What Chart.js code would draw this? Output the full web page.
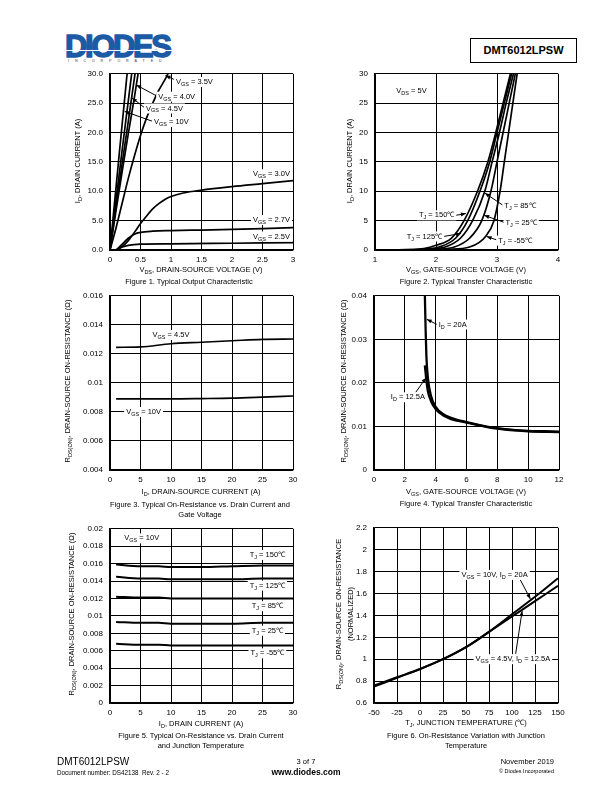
<!DOCTYPE html>
<html><head><meta charset="utf-8">
<script src="https://cdn.jsdelivr.net/npm/chart.js@4.4.0/dist/chart.umd.min.js"></script>
<style>
body{margin:0;width:612px;height:792px;position:relative;background:#fff;font-family:"Liberation Sans",Arial,sans-serif;color:#000;overflow:hidden}
canvas{position:absolute}
.t{position:absolute;white-space:nowrap;font-size:7.5px;line-height:1}
.t sub{font-size:5.5px;vertical-align:-1.5px;line-height:0}
#logo{position:absolute;left:65px;top:29px;font:bold 31px "Liberation Sans",Arial;color:#1d5aa6;letter-spacing:-2.4px;-webkit-text-stroke:1.4px #1d5aa6}
#stripe{position:absolute;left:62px;top:50px;width:112px;height:1px;background:#fff}
#inc{position:absolute;left:68px;top:59px;font-size:3.6px;letter-spacing:5.9px;color:#333}
#pn{position:absolute;left:470px;top:38px;width:105px;height:23px;border:1.3px solid #000;font:bold 11px "Liberation Sans",Arial;text-align:center;line-height:23px}
</style></head><body>
<div id="logo">DIODES</div>
<div id="stripe"></div>
<div id="inc">INCORPORATED</div>
<div id="pn">DMT6012LPSW</div>
<script>
// Figure 1 - output characteristic (VDS in V, ID in A)
const outVds10 = [0, 0.05, 0.1, 0.15, 0.2, 0.25, 0.28];
const outId10 = [0, 5.4, 10.8, 16.2, 21.5, 26.8, 30];
const outVds6 = [0, 0.1, 0.2, 0.3, 0.355];
const outId6 = [0, 8.6, 17.1, 25.4, 30];
const outVds45 = [0, 0.1, 0.2, 0.3, 0.41];
const outId45 = [0, 7.5, 14.8, 21.9, 30];
const outVds40 = [0, 0.1, 0.2, 0.3, 0.4, 0.46];
const outId40 = [0, 6.8, 13.4, 19.8, 26, 30];
const outVds35 = [0, 0.1, 0.2, 0.3, 0.4, 0.5, 0.6, 0.7, 0.8, 0.9, 0.95];
const outId35 = [0, 3.8, 8, 12.2, 16, 19.5, 22.5, 25, 27.2, 29, 30];
const outVds30 = [0.1, 0.2, 0.3, 0.4, 0.5, 0.6, 0.7, 0.8, 0.9, 1, 1.2, 1.5, 2, 2.5, 3];
const outId30 = [0, 0.6, 1.6, 3, 4.5, 5.8, 7, 7.9, 8.6, 9.1, 9.7, 10.2, 10.8, 11.3, 11.8];
const outVds27 = [0.1, 0.2, 0.3, 0.4, 0.5, 0.7, 1, 1.5, 2, 2.5, 3];
const outId27 = [0, 1, 2, 2.7, 3, 3.2, 3.3, 3.4, 3.5, 3.65, 3.8];
const outVds25 = [0.1, 0.2, 0.3, 0.5, 1, 2, 3];
const outId25 = [0, 0.5, 0.8, 1, 1.05, 1.15, 1.25];

// Figure 2 - transfer characteristic (VGS in V, ID in A)
const trVgs150 = [1.1, 1.5, 1.8, 2.0, 2.25, 2.46, 2.68, 2.85, 2.98, 3.1, 3.22];
const trId150 = [0, 0.05, 0.25, 0.8, 2, 5, 10, 15, 20, 25, 30];
const trVgs125 = [1.1, 1.5, 1.85, 2.05, 2.32, 2.52, 2.72, 2.88, 3.0, 3.12, 3.24];
const trId125 = [0, 0.03, 0.2, 0.5, 2, 5, 10, 15, 20, 25, 30];
const trVgs85 = [1.2, 1.6, 1.9, 2.15, 2.4, 2.6, 2.8, 2.92, 3.04, 3.15, 3.27];
const trId85 = [0, 0.02, 0.15, 0.5, 2, 5, 10, 15, 20, 25, 30];
const trVgs25 = [1.3, 1.7, 2.0, 2.3, 2.55, 2.75, 2.9, 3.0, 3.1, 3.2, 3.3];
const trId25 = [0, 0.02, 0.12, 0.5, 2, 5, 10, 15, 20, 25, 30];
const trVgsM55 = [1.5, 1.9, 2.2, 2.55, 2.82, 2.95, 3.05, 3.12, 3.19, 3.26, 3.33];
const trIdM55 = [0, 0.02, 0.1, 0.5, 2.4, 5, 10, 15, 20, 25, 30];

// Figure 3 - RDS(on) vs ID
const rdsId = [1, 5, 10, 15, 20, 25, 30];
const rdsVgs45 = [0.01245, 0.01248, 0.0127, 0.0128, 0.0129, 0.0130, 0.01302];
const rdsVgs10 = [0.0089, 0.0089, 0.0089, 0.00892, 0.00895, 0.00902, 0.0091];

// Figure 4 - RDS(on) vs VGS
const rgVgs20 = [3.3, 3.35, 3.4, 3.5, 3.7, 4, 4.5, 5, 6, 7, 8, 9, 10, 11, 12];
const rgR20 = [0.04, 0.032, 0.026, 0.021, 0.017, 0.0145, 0.0128, 0.012, 0.011, 0.0102, 0.0096, 0.0092, 0.009, 0.0089, 0.0088];
const rgVgs125 = [3.3, 3.4, 3.5, 3.7, 4, 4.5, 5, 6, 8, 10, 12];
const rgR125 = [0.024, 0.0205, 0.018, 0.0158, 0.014, 0.0125, 0.0117, 0.0109, 0.0095, 0.0089, 0.0087];

// Figure 5 - RDS(on) vs ID and TJ
const rtId = [1, 5, 8, 10, 15, 20, 25, 30];
const rtT150 = [0.0159, 0.0157, 0.0157, 0.0156, 0.0156, 0.0157, 0.0158, 0.0158];
const rtT125 = [0.0145, 0.0143, 0.0143, 0.0142, 0.0142, 0.0142, 0.0143, 0.0143];
const rtT85 = [0.0122, 0.0121, 0.0121, 0.012, 0.012, 0.012, 0.012, 0.012];
const rtT25 = [0.0093, 0.0092, 0.0092, 0.0091, 0.0091, 0.0091, 0.0092, 0.0092];
const rtTm55 = [0.0068, 0.0067, 0.0067, 0.0066, 0.0066, 0.0066, 0.0066, 0.0066];

// Figure 6 - normalized RDS(on) vs TJ
const ntTemp = [-50, -25, 0, 25, 50, 75, 100, 125, 150];
const ntR10 = [0.75, 0.83, 0.91, 1.0, 1.11, 1.25, 1.41, 1.57, 1.74];
const ntR45 = [0.76, 0.835, 0.91, 1.0, 1.11, 1.25, 1.39, 1.53, 1.67];

const FONT = '"Liberation Sans", Arial, sans-serif';
const pts = (xs, ys) => xs.map((x, i) => ({ x: x, y: ys[i] }));
const num = d => v => String(Number(v.toFixed(d)));

function text(html, x, y, rot) {
    const d = document.createElement('div');
    d.className = 't';
    d.innerHTML = html;
    d.style.left = x + 'px';
    d.style.top = y + 'px';
    d.style.transform = 'translate(-50%,-50%)' + (rot ? ' rotate(-90deg)' : '');
    document.body.appendChild(d);
}

// labels with subscripts and arrows, placed in data coordinates
function notesPlugin(notes) {
    return {
        id: 'notes',
        afterDatasetsDraw(chart) {
            const ctx = chart.ctx, xs = chart.scales.x, ys = chart.scales.y;
            ctx.save();
            notes.forEach(n => {
                if (n.from) {
                    const x1 = xs.getPixelForValue(n.from[0]), y1 = ys.getPixelForValue(n.from[1]);
                    const x2 = xs.getPixelForValue(n.to[0]), y2 = ys.getPixelForValue(n.to[1]);
                    const a = Math.atan2(y2 - y1, x2 - x1);
                    ctx.strokeStyle = '#000'; ctx.fillStyle = '#000'; ctx.lineWidth = 1;
                    ctx.beginPath(); ctx.moveTo(x1, y1); ctx.lineTo(x2, y2); ctx.stroke();
                    ctx.beginPath();
                    ctx.moveTo(x2, y2);
                    ctx.lineTo(x2 - 5 * Math.cos(a) + 2 * Math.sin(a), y2 - 5 * Math.sin(a) - 2 * Math.cos(a));
                    ctx.lineTo(x2 - 5 * Math.cos(a) - 2 * Math.sin(a), y2 - 5 * Math.sin(a) + 2 * Math.cos(a));
                    ctx.closePath(); ctx.fill();
                }
                if (!n.parts) return;
                const big = '7.5px ' + FONT, small = '5.5px ' + FONT;
                let w = 0;
                n.parts.forEach(p => { ctx.font = p[1] ? small : big; w += ctx.measureText(p[0]).width; });
                let x = xs.getPixelForValue(n.x), y = ys.getPixelForValue(n.y);
                if (n.align === 'center') x -= w / 2;
                else if (n.align === 'right') x -= w;
                ctx.fillStyle = '#fff';
                ctx.fillRect(x - 2, y - 5, w + 4, 10);
                ctx.fillStyle = '#000';
                ctx.textBaseline = 'middle';
                n.parts.forEach(p => {
                    ctx.font = p[1] ? small : big;
                    ctx.fillText(p[0], x, y + (p[1] ? 2.5 : 0));
                    x += ctx.measureText(p[0]).width;
                });
            });
            ctx.restore();
        }
    };
}

function makeChart(box, plot, xs, ys, series, notes, lw) {
    const c = document.createElement('canvas');
    c.width = box[2]; c.height = box[3];
    c.style.left = box[0] + 'px'; c.style.top = box[1] + 'px';
    c.style.width = box[2] + 'px'; c.style.height = box[3] + 'px';
    document.body.appendChild(c);
    const axis = (cfg, pad) => ({
        type: 'linear', min: cfg.min, max: cfg.max,
        grid: { color: '#000', lineWidth: 1, drawTicks: false },
        border: { color: '#000', width: 1.2 },
        ticks: { stepSize: cfg.step, autoSkip: false, maxRotation: 0, padding: pad, color: '#000',
                 font: { family: FONT, size: 8 }, callback: cfg.fmt }
    });
    const xAxis = axis(xs, 5), yAxis = axis(ys, 7);
    xAxis.afterFit = s => { s.height = box[1] + box[3] - plot[3]; };
    yAxis.afterFit = s => { s.width = plot[0] - box[0]; };
    return new Chart(c, {
        type: 'line',
        data: { datasets: series.map(s => ({
            data: s, borderColor: '#000', borderWidth: lw,
            pointRadius: 0, cubicInterpolationMode: 'monotone', fill: false
        })) },
        options: {
            responsive: false, animation: false, devicePixelRatio: 1,
            layout: { autoPadding: false, padding: { left: 0, top: plot[1] - box[1], right: box[0] + box[2] - plot[2], bottom: 0 } },
            plugins: { legend: { display: false }, tooltip: { enabled: false } },
            scales: { x: xAxis, y: yAxis }
        },
        plugins: [notesPlugin(notes)]
    });
}

const V = (sub, rest) => [['V'], [sub, 1], [rest]];
const T = rest => [['T'], ['J', 1], [rest]];
const ID = rest => [['I'], ['D', 1], [rest]];

// Figure 1
makeChart([60, 62, 245, 204], [110, 72, 293, 250],
    { min: 0, max: 3, step: 0.5, fmt: num(1) },
    { min: 0, max: 30, step: 5, fmt: v => v.toFixed(1) },
    [pts(outVds10, outId10), pts(outVds6, outId6), pts(outVds45, outId45), pts(outVds40, outId40),
     pts(outVds35, outId35), pts(outVds30, outId30), pts(outVds27, outId27), pts(outVds25, outId25)],
    [{ from: [1.06, 29], to: [0.91, 29.7] }, { parts: V('GS', ' = 3.5V'), x: 1.08, y: 28.6, align: 'left' },
     { from: [0.77, 26.2], to: [0.43, 28.1] }, { parts: V('GS', ' = 4.0V'), x: 0.79, y: 26.1, align: 'left' },
     { from: [0.57, 24.2], to: [0.36, 25.9] }, { parts: V('GS', ' = 4.5V'), x: 0.59, y: 24.1, align: 'left' },
     { from: [0.7, 21.9], to: [0.24, 23.6] }, { parts: V('GS', ' = 10V'), x: 0.72, y: 21.8, align: 'left' },
     { parts: V('GS', ' = 3.0V'), x: 2.95, y: 12.9, align: 'right' },
     { parts: V('GS', ' = 2.7V'), x: 2.95, y: 5.1, align: 'right' },
     { parts: V('GS', ' = 2.5V'), x: 2.95, y: 2.3, align: 'right' }], 1.7);

// Figure 2
makeChart([335, 62, 245, 204], [375, 71, 558, 250],
    { min: 1, max: 4, step: 1, fmt: num(0) },
    { min: 0, max: 30, step: 5, fmt: num(0) },
    [pts(trVgs150, trId150), pts(trVgs125, trId125), pts(trVgs85, trId85),
     pts(trVgs25, trId25), pts(trVgsM55, trIdM55)],
    [{ parts: V('DS', ' = 5V'), x: 1.35, y: 27, align: 'left' },
     { from: [2.32, 5.9], to: [2.49, 6.2] }, { parts: T(' = 150\u2103'), x: 2.3, y: 5.9, align: 'right' },
     { from: [2.12, 2.3], to: [2.41, 2.8] }, { parts: T(' = 125\u2103'), x: 2.1, y: 2.3, align: 'right' },
     { from: [3.1, 7.6], to: [2.8, 9.7] }, { parts: T(' = 85\u2103'), x: 3.12, y: 7.5, align: 'left' },
     { from: [3.12, 4.7], to: [2.79, 5.9] }, { parts: T(' = 25\u2103'), x: 3.14, y: 4.6, align: 'left' },
     { from: [3.0, 1.7], to: [2.83, 2.3] }, { parts: T(' = -55\u2103'), x: 3.02, y: 1.6, align: 'left' }], 1.7);

// Figure 3
makeChart([60, 284, 245, 204], [110, 292, 293, 470],
    { min: 0, max: 30, step: 5, fmt: num(0) },
    { min: 0.004, max: 0.016, step: 0.002, fmt: num(3) },
    [pts(rdsId, rdsVgs45), pts(rdsId, rdsVgs10)],
    [{ parts: V('GS', ' = 4.5V'), x: 10, y: 0.0133, align: 'center' },
     { parts: V('GS', ' = 10V'), x: 5.5, y: 0.008, align: 'center' }], 1.6);

// Figure 4
makeChart([335, 284, 245, 204], [374, 292, 559, 470],
    { min: 0, max: 12, step: 2, fmt: num(0) },
    { min: 0, max: 0.04, step: 0.01, fmt: num(2) },
    [pts(rgVgs20, rgR20), pts(rgVgs125, rgR125)],
    [{ from: [4.1, 0.0334], to: [3.42, 0.0346] }, { parts: ID(' = 20A'), x: 4.2, y: 0.0334, align: 'left' },
     { from: [2.7, 0.0178], to: [3.38, 0.0212] }, { parts: ID(' = 12.5A'), x: 2.2, y: 0.0167, align: 'center' }], 2.3);

// Figure 5
makeChart([60, 517, 245, 204], [110, 525, 293, 703],
    { min: 0, max: 30, step: 5, fmt: num(0) },
    { min: 0, max: 0.02, step: 0.002, fmt: num(3) },
    [pts(rtId, rtT150), pts(rtId, rtT125), pts(rtId, rtT85), pts(rtId, rtT25), pts(rtId, rtTm55)],
    [{ parts: V('GS', ' = 10V'), x: 5.2, y: 0.0189, align: 'center' },
     { parts: T(' = 150\u2103'), x: 25.8, y: 0.017, align: 'center' },
     { parts: T(' = 125\u2103'), x: 25.8, y: 0.01348, align: 'center' },
     { parts: T(' = 85\u2103'), x: 25.8, y: 0.01112, align: 'center' },
     { parts: T(' = 25\u2103'), x: 25.8, y: 0.0083, align: 'center' },
     { parts: T(' = -55\u2103'), x: 25.8, y: 0.0057, align: 'center' }], 2);

// Figure 6
makeChart([335, 516, 245, 204], [374, 524, 558, 703],
    { min: -50, max: 150, step: 25, fmt: num(0) },
    { min: 0.6, max: 2.2, step: 0.2, fmt: num(1) },
    [pts(ntTemp, ntR10), pts(ntTemp, ntR45)],
    [{ from: [109, 1.725], to: [120, 1.55] }, { parts: [['V'], ['GS', 1], [' = 10V, I'], ['D', 1], [' = 20A']], x: 81, y: 1.77, align: 'center' },
     { from: [104, 1.05], to: [111, 1.44] }, { parts: [['V'], ['GS', 1], [' = 4.5V, I'], ['D', 1], [' = 12.5A']], x: 101, y: 1.0, align: 'center' }], 2);

// axis titles and captions
const RDS = 'R<sub>DS(ON)</sub>, DRAIN-SOURCE ON-RESISTANCE';
text('I<sub>D</sub>, DRAIN CURRENT (A)', 78, 161, true);
text('V<sub>DS</sub>, DRAIN-SOURCE VOLTAGE (V)', 201, 270);
text('Figure 1. Typical Output Characteristic', 189, 282);
text('I<sub>D</sub>, DRAIN CURRENT (A)', 350, 161, true);
text('V<sub>GS</sub>, GATE-SOURCE VOLTAGE (V)', 466, 270);
text('Figure 2. Typical Transfer Characteristic', 466, 282);
text(RDS + ' (&Omega;)', 68, 381, true);
text('I<sub>D</sub>, DRAIN-SOURCE CURRENT (A)', 201, 492);
text('Figure 3. Typical On-Resistance vs. Drain Current and', 200, 505);
text('Gate Voltage', 200, 515);
text(RDS + ' (&Omega;)', 344, 381, true);
text('V<sub>GS</sub>, GATE-SOURCE VOLTAGE (V)', 466, 492);
text('Figure 4. Typical Transfer Characteristic', 466, 504);
text(RDS + ' (&Omega;)', 72, 614, true);
text('I<sub>D</sub>, DRAIN CURRENT (A)', 201, 724);
text('Figure 5. Typical On-Resistance vs. Drain Current', 201, 736);
text('and Junction Temperature', 201, 746);
text(RDS, 339, 614, true);
text('(NORMALIZED)', 351, 614, true);
text('T<sub>J</sub>, JUNCTION TEMPERATURE (&#8451;)', 466, 723);
text('Figure 6. On-Resistance Variation with Junction', 466, 736);
text('Temperature', 466, 746);

// footer
const foot = (html, x, y, css) => {
    const d = document.createElement('div');
    d.className = 't'; d.innerHTML = html;
    d.style.left = x + 'px'; d.style.top = y + 'px';
    d.style.cssText += css || '';
    document.body.appendChild(d);
};
foot('DMT6012LPSW', 57, 757, 'font-size:10px');
foot('Document number: DS42138&nbsp; Rev. 2 - 2', 57, 770, 'font-size:6.3px');
foot('3 of 7', 306, 758, 'font-size:7.5px;transform:translateX(-50%)');
foot('www.diodes.com', 306, 768, 'font-size:8.5px;font-weight:bold;transform:translateX(-50%)');
foot('November 2019', 554, 758, 'font-size:7.5px;transform:translateX(-100%)');
foot('&copy; Diodes Incorporated', 554, 769, 'font-size:5.5px;transform:translateX(-100%)');
</script>
</body></html>
